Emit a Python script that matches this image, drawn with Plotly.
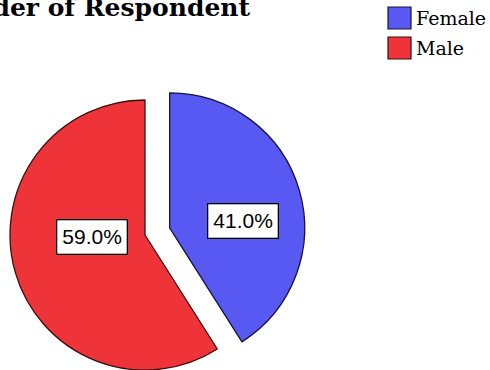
import math
import plotly.graph_objects as go

# Data
categories = ["Female", "Male"]
counts = [41.0, 59.0]
slice_colors = ["#5858f2", "#ef3439"]
edge_colors = ["#14143c", "#3c0e0e"]
title_text = "Gender of Respondent"

W, H = 490, 370
R_PX = 135                  # pie radius in px
CENTER = (145.0, 235.0)     # centre of the un-pulled pie (px, y down)
PULL = 0.19                 # exploded slice offset as a fraction of radius
EXPLODE = "Female"

total = sum(counts)
fractions = [c / total for c in counts]

# Angles measured clockwise from 12 o'clock
starts, mids = [], []
acc = 0.0
for f in fractions:
    starts.append(acc)
    mids.append(acc + f * 180.0)
    acc += f * 360.0


def domain_for(cx, cy, r):
    return dict(
        x=[(cx - r) / W, (cx + r) / W],
        y=[(H - (cy + r)) / H, (H - (cy - r)) / H],
    )


fig = go.Figure()

for i, cat in enumerate(categories):
    if cat == EXPLODE:
        a = math.radians(mids[i])
        cx = CENTER[0] + PULL * R_PX * math.sin(a)
        cy = CENTER[1] - PULL * R_PX * math.cos(a)
    else:
        cx, cy = CENTER
    fills = [c if j == i else "rgba(0,0,0,0)" for j, c in enumerate(slice_colors)]
    widths = [1.3 if j == i else 0 for j in range(len(categories))]
    fig.add_trace(go.Pie(
        labels=categories,
        values=counts,
        sort=False,
        direction="clockwise",
        rotation=0,
        marker=dict(colors=fills, line=dict(color=edge_colors, width=widths)),
        textinfo="none",
        hoverinfo="skip",
        showlegend=False,
        domain=domain_for(cx, cy, R_PX),
    ))

# Percentage labels in boxed callouts
label_xy = {"Male": (92, 237), "Female": (243, 221)}
annotations = []
for cat, f in zip(categories, fractions):
    lx, ly = label_xy[cat]
    annotations.append(dict(
        x=lx / W, y=(H - ly) / H, xref="paper", yref="paper",
        text=f"{f * 100:.1f}%", showarrow=False,
        font=dict(family="Liberation Sans, Arial, sans-serif", size=21, color="black"),
        bgcolor="white", bordercolor="black", borderwidth=1.3, borderpad=5,
        xanchor="center", yanchor="middle",
    ))

# Title (extends past the left edge of the canvas)
annotations.append(dict(
    x=252 / W, y=(H - 7) / H, xref="paper", yref="paper",
    text=title_text, showarrow=False,
    font=dict(family="DejaVu Serif", size=25, color="black", weight="bold"),
    xanchor="right", yanchor="middle",
))

# Legend: coloured swatches with category names
shapes = []
for k, (cat, col, ec) in enumerate(zip(categories, slice_colors, edge_colors)):
    top = 7 + k * 30
    shapes.append(dict(
        type="rect", xref="paper", yref="paper",
        x0=388 / W, x1=411 / W, y0=(H - (top + 22)) / H, y1=(H - top) / H,
        fillcolor=col, line=dict(color=ec, width=1.2),
    ))
    annotations.append(dict(
        x=414 / W, y=(H - (top + 11)) / H, xref="paper", yref="paper",
        text=cat, showarrow=False,
        font=dict(family="DejaVu Serif", size=19, color="black"),
        xanchor="left", yanchor="middle",
    ))

fig.update_layout(
    width=W, height=H,
    margin=dict(l=0, r=0, t=0, b=0, pad=0),
    paper_bgcolor="white", plot_bgcolor="white",
    showlegend=False,
    annotations=annotations,
    shapes=shapes,
)

fig.write_html("out.html")
